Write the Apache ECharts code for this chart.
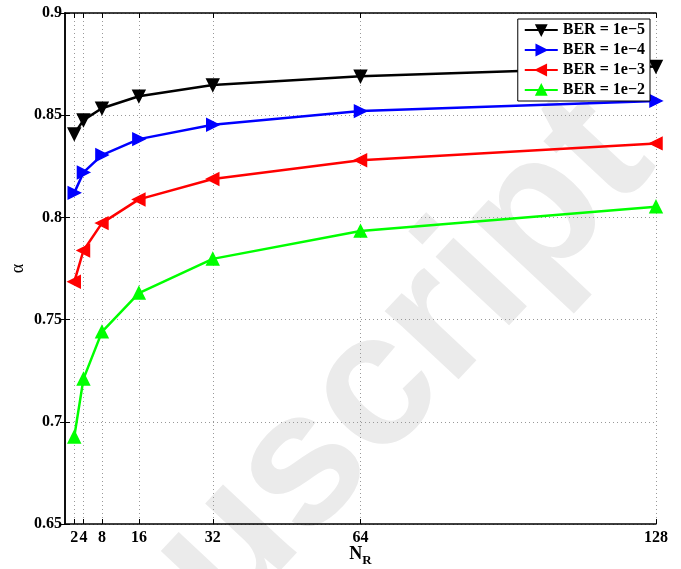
<!DOCTYPE html>
<html>
<head>
<meta charset="utf-8">
<script src="https://cdn.jsdelivr.net/npm/echarts@6/dist/echarts.min.js"></script>
<style>
  html, body { margin: 0; padding: 0; background: #fff; }
  #chart { width: 681px; height: 569px; }
</style>
</head>
<body>
<div id="chart"></div>
<script>
var nr = [2, 4, 8, 16, 32, 64, 128];
var xTicks = [2, 4, 8, 16, 32, 64, 128];
var yTicks = [0.65, 0.7, 0.75, 0.8, 0.85, 0.9];
var ber5 = [0.8408, 0.8476, 0.8534, 0.8593, 0.8648, 0.8690, 0.8738];
var ber4 = [0.8120, 0.8220, 0.8305, 0.8383, 0.8453, 0.8520, 0.8570];
var ber3 = [0.7685, 0.7838, 0.7972, 0.8088, 0.8188, 0.8280, 0.8362];
var ber2 = [0.6926, 0.7210, 0.7440, 0.7630, 0.7797, 0.7933, 0.8052];

var font = 'Liberation Serif';

function pairs(ys) {
  return nr.map(function (x, i) { return [x, ys[i]]; });
}

function makeSeries(name, color, ys, rot) {
  return {
    name: name,
    type: 'line',
    data: pairs(ys),
    symbol: 'triangle',
    symbolSize: 12,
    symbolRotate: rot,
    lineStyle: { color: color, width: 2.5 },
    itemStyle: { color: color, borderColor: color, borderWidth: 1.5 },
    emphasis: { disabled: true },
    z: 3
  };
}

var myChart = echarts.init(document.getElementById('chart'));
var option = {
  animation: false,
  backgroundColor: '#fff',
  grid: { left: 65, right: 25, top: 13, bottom: 45, outerBoundsMode: 'none' },
  // 水印
  graphic: [{
    type: 'text',
    x: 404,
    y: 361,
    rotation: 0.82,
    z: -1,
    silent: true,
    style: {
      text: 'uscript',
      font: 'bold 190px "Liberation Sans"',
      textAlign: 'center',
      textVerticalAlign: 'middle',
      fill: '#ebebeb'
    }
  }],
  legend: {
    right: 31,
    top: 19,
    orient: 'vertical',
    backgroundColor: '#fff',
    borderColor: '#000',
    borderWidth: 1,
    borderRadius: 0,
    padding: [3, 5, 3, 6],
    itemGap: 4,
    itemWidth: 33,
    itemHeight: 12,
    textStyle: { fontFamily: font, fontWeight: 'bold', fontSize: 16, color: '#000' },
    data: ['BER = 1e\u22125', 'BER = 1e\u22124', 'BER = 1e\u22123', 'BER = 1e\u22122']
  },
  xAxis: [{
    type: 'value',
    min: 0,
    max: 128,
    name: '{n|N}{s|R}',
    nameLocation: 'middle',
    nameGap: 21,
    nameMoveOverlap: false,
    nameTextStyle: {
      rich: {
        n: { fontFamily: font, fontWeight: 'bold', fontSize: 18, color: '#000', verticalAlign: 'top' },
        s: { fontFamily: font, fontWeight: 'bold', fontSize: 13, color: '#000', verticalAlign: 'bottom', padding: [9, 0, 0, 0] }
      }
    },
    axisLine: { lineStyle: { color: '#000', width: 1.5 } },
    axisTick: { inside: true, length: 5, customValues: xTicks, lineStyle: { color: '#000' } },
    axisLabel: { customValues: xTicks, margin: 6, fontFamily: font, fontWeight: 'bold', fontSize: 16, color: '#000' },
    splitLine: { show: true, lineStyle: { color: '#999', type: [1, 3], width: 1 } }
  }, {
    type: 'value',
    position: 'top',
    min: 0,
    max: 128,
    axisLine: { show: true, lineStyle: { color: '#000', width: 1.5 } },
    axisTick: { show: true, inside: true, length: 5, customValues: xTicks, lineStyle: { color: '#000' } },
    axisLabel: { show: false },
    splitLine: { show: false }
  }],
  yAxis: [{
    type: 'value',
    min: 0.65,
    max: 0.9,
    interval: 0.05,
    name: '\u03b1',
    nameLocation: 'middle',
    nameGap: 38,
    nameMoveOverlap: false,
    nameTextStyle: { fontFamily: font, fontSize: 18, color: '#000' },
    axisLine: { show: true, lineStyle: { color: '#000', width: 1.5 } },
    axisTick: { show: true, inside: true, length: 5, lineStyle: { color: '#000' } },
    axisLabel: { margin: 3, fontFamily: font, fontWeight: 'bold', fontSize: 16, color: '#000',
      formatter: function (v) { return +v.toFixed(2) + ''; } },
    splitLine: { show: true, lineStyle: { color: '#999', type: [1, 3], width: 1 } }
  }, {
    type: 'value',
    position: 'right',
    min: 0.65,
    max: 0.9,
    interval: 0.05,
    axisLine: { show: true, lineStyle: { color: '#000', width: 1.5 } },
    axisTick: { show: true, inside: true, length: 5, lineStyle: { color: '#000' } },
    axisLabel: { show: false },
    splitLine: { show: false }
  }],
  series: [
    makeSeries('BER = 1e\u22125', '#000000', ber5, 180),
    makeSeries('BER = 1e\u22124', '#0000ff', ber4, -90),
    makeSeries('BER = 1e\u22123', '#ff0000', ber3, 90),
    makeSeries('BER = 1e\u22122', '#00ff00', ber2, 0)
  ]
};
myChart.setOption(option);
window.addEventListener('resize', function () {
  myChart.resize();
});
</script>
</body>
</html>
